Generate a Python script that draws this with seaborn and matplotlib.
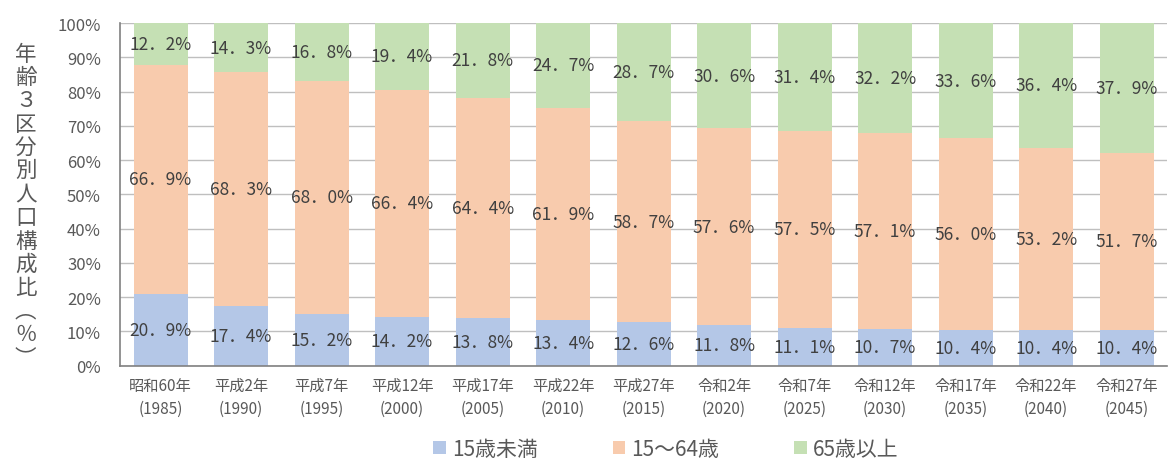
import pandas as pd
import numpy as np
import seaborn as sns
import matplotlib.pyplot as plt

# 年次ラベル
years = ['昭和60年\n(1985)', '平成2年\n(1990)', '平成7年\n(1995)', '平成12年\n(2000)',
         '平成17年\n(2005)', '平成22年\n(2010)', '平成27年\n(2015)', '令和2年\n(2020)',
         '令和7年\n(2025)', '令和12年\n(2030)', '令和17年\n(2035)', '令和22年\n(2040)',
         '令和27年\n(2045)']
# 年齢3区分別の構成比 (%)
under15 = [20.9, 17.4, 15.2, 14.2, 13.8, 13.4, 12.6, 11.8, 11.1, 10.7, 10.4, 10.4, 10.4]
age15_64 = [66.9, 68.3, 68.0, 66.4, 64.4, 61.9, 58.7, 57.6, 57.5, 57.1, 56.0, 53.2, 51.7]
over65 = [12.2, 14.3, 16.8, 19.4, 21.8, 24.7, 28.7, 30.6, 31.4, 32.2, 33.6, 36.4, 37.9]

series_names = ['15歳未満', '15～64歳', '65歳以上']
colors = ['#b4c7e7', '#f8cbad', '#c5e0b4']

sns.set_style('white')
plt.rcParams['font.family'] = ['Noto Sans CJK JP', 'DejaVu Sans']

df = pd.DataFrame({'year': years, series_names[0]: under15,
                   series_names[1]: age15_64, series_names[2]: over65})

fig, ax = plt.subplots(figsize=(11.68, 4.64), dpi=100)
fig.subplots_adjust(left=0.103, right=0.999, top=0.948, bottom=0.21)

bottom = np.zeros(len(years))
for name, col in zip(series_names, colors):
    vals = df[name].to_numpy()
    sns.barplot(x=df['year'], y=vals, bottom=bottom, color=col, width=0.67,
                ax=ax, label=name, saturation=1, linewidth=0)
    for i, v in enumerate(vals):
        ax.text(i, bottom[i] + v / 2, f'{v:.1f}'.replace('.', '．') + '%',
                ha='center', va='center', fontsize=12.5, color='#404040')
    bottom = bottom + vals

ax.set_ylim(0, 100)
ax.set_xlim(-0.5, len(years) - 0.5)
ax.set_yticks(range(0, 101, 10))
ax.set_yticklabels([f'{t}%' for t in range(0, 101, 10)], fontsize=12, color='#595959')
ax.tick_params(axis='x', labelsize=11, labelcolor='#595959', length=0, pad=8)
ax.tick_params(axis='y', length=0, pad=14)
for lab in ax.get_xticklabels():
    lab.set_linespacing(1.45)
ax.yaxis.grid(True, color='#bfbfbf', linewidth=1)
ax.set_axisbelow(True)
for s in ['top', 'right']:
    ax.spines[s].set_visible(False)
for s in ['left', 'bottom']:
    ax.spines[s].set_color('#808080')
    ax.spines[s].set_linewidth(1.2)
ax.set_xlabel('')

ylabel = '\n'.join(list('年齢３区分別人口構成比')) + '\n︵\n％\n︶'
fig.text(0.022, 0.555, ylabel, ha='center', va='center', fontsize=15.5,
         color='#595959', linespacing=1.08)

handles, labels = ax.get_legend_handles_labels()
ax.get_legend().remove()
fig.legend(handles, labels, loc='center', bbox_to_anchor=(0.57, 0.03),
           ncol=3, frameon=False, fontsize=15, handlelength=0.6, handleheight=0.6,
           columnspacing=3.6, handletextpad=0.3, labelcolor='#595959')

plt.savefig('out.png', dpi=100)
